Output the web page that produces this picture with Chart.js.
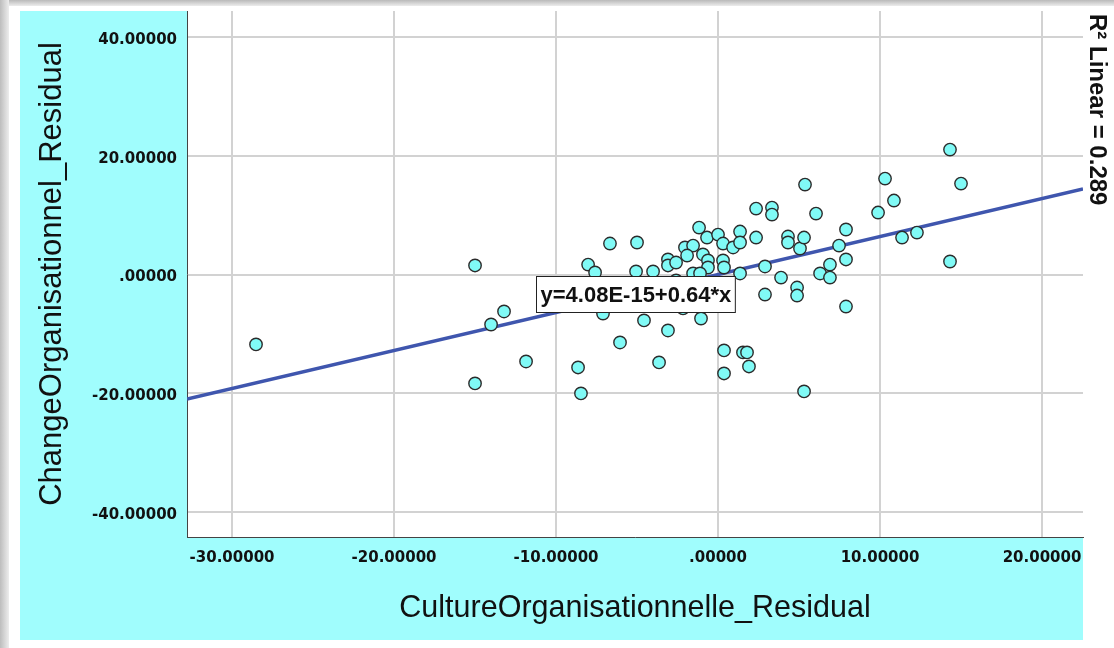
<!DOCTYPE html>
<html>
<head>
<meta charset="utf-8">
<script src="https://cdn.jsdelivr.net/npm/chart.js@4/dist/chart.umd.min.js"></script>
<style>
  html, body { margin: 0; padding: 0; background: #ffffff; }
  #wrap { width: 1114px; height: 648px; position: relative; }
  canvas { display: block; }
</style>
</head>
<body>
<div id="wrap"><canvas id="scatter" width="1114" height="648"></canvas></div>
<script>
// Residuals of the two variables (one entry per respondent)
const cultureResidual = [
  -28.52, -15.00, -15.00, -14.01, -13.21, -11.85, -8.64, -8.46, -8.02, -7.59,
  -7.10, -6.67, -6.05, -5.00, -5.06, -4.57, -4.01, -3.64, -3.09, -3.09,
  -3.09, -2.59, -2.04, -1.54, -1.91, -1.17, -0.93, -0.62, -0.62, -0.68,
  -1.54, -1.11, -2.16, -1.05, 0.00, 0.31, 0.93, 0.31, 0.37, 1.36,
  1.36, 1.36, 2.35, 2.35, 2.90, 2.90, 3.33, 3.33, 3.89, 4.32,
  4.32, 4.88, 4.88, 5.06, 5.31, 5.37, 6.05, 6.30, 6.91, 6.91,
  7.47, 7.90, 7.90, 7.90, 9.88, 10.31, 10.86, 11.36, 12.28, 14.32,
  14.32, 15.00, 0.37, 1.54, 1.79, 1.91, 0.37, 5.31, -2.59
];
const changeResidual = [
  -11.78, 1.52, -18.35, -8.42, -6.23, -14.65, -15.66, -20.03, 1.68, 0.34,
  -6.57, 5.22, -11.45, 5.39, 0.51, -7.74, 0.51, -14.81, -9.43, 2.53,
  1.52, 2.02, 4.55, 4.88, 3.20, 7.91, 3.37, 2.36, 1.18, 6.23,
  0.17, 0.17, -5.72, -7.41, 6.73, 5.22, 4.55, 2.36, 1.18, 7.24,
  5.39, 0.17, 11.11, 6.23, 1.35, -3.37, 11.28, 10.10, -0.51, 6.40,
  5.39, -2.19, -3.54, 4.38, 6.23, 15.15, 10.27, 0.17, 1.68, -0.51,
  4.88, 7.58, 2.53, -5.39, 10.44, 16.16, 12.46, 6.23, 7.07, 21.04,
  2.19, 15.32, -12.79, -13.13, -13.13, -15.49, -16.67, -19.70, -1.00
];

// Axis ticks and their printed labels
const xTickValues = [-30, -20, -10, 0, 10, 20];
const xTickLabels = ['-30.00000', '-20.00000', '-10.00000', '.00000', '10.00000', '20.00000'];
const yTickValues = [-40, -20, 0, 20, 40];
const yTickLabels = ['-40.00000', '-20.00000', '.00000', '20.00000', '40.00000'];

// Axis ranges
const xRange = [-32.78, 22.53];
const yRange = [-44.21, 44.38];

// Linear fit
const fitIntercept = 4.08e-15;
const fitSlope = 0.64;
const fitLabel = 'y=4.08E-15+0.64*x';
const fitLabelAnchor = { x: -11.23, y: -3.2 };   // left edge / vertical centre of the label box
const rSquaredText = 'R\u00B2 Linear = 0.289';

const points = cultureResidual.map((x, i) => ({ x: x, y: changeResidual[i] }));
const fitLine = [xRange[0], xRange[1]].map(x => ({ x: x, y: fitIntercept + fitSlope * x }));

const CYAN = '#a0fdfd';

const framePlugin = {
  id: 'frame',
  beforeDraw(chart) {
    const ctx = chart.ctx;
    const { left, top, right, bottom } = chart.chartArea;
    ctx.save();
    ctx.fillStyle = '#ffffff';
    ctx.fillRect(0, 0, chart.width, chart.height);
    // window-like grey edges
    let g = ctx.createLinearGradient(0, 0, 0, 6);
    g.addColorStop(0, '#b9b9b9'); g.addColorStop(1, '#ececec');
    ctx.fillStyle = g; ctx.fillRect(0, 0, chart.width, 6);
    g = ctx.createLinearGradient(0, 0, 9, 0);
    g.addColorStop(0, '#bdbdbd'); g.addColorStop(1, '#ededed');
    ctx.fillStyle = g; ctx.fillRect(0, 0, 9, chart.height);
    // cyan panel behind axes
    ctx.fillStyle = CYAN;
    ctx.fillRect(20, top, right - 20, 640 - top);
    // white plotting region
    ctx.fillStyle = '#ffffff';
    ctx.fillRect(left, top, right - left, bottom - top);
    ctx.restore();
  }
};

const annotationPlugin = {
  id: 'fitAnnotations',
  afterDatasetsDraw(chart) {
    const ctx = chart.ctx;
    const xs = chart.scales.x, ys = chart.scales.y;
    ctx.save();
    ctx.font = 'bold 22px "Liberation Sans", Arial, sans-serif';
    const w = ctx.measureText(fitLabel).width + 8;
    const h = 36;
    const bx = Math.round(xs.getPixelForValue(fitLabelAnchor.x)) + 0.5;
    const by = Math.round(ys.getPixelForValue(fitLabelAnchor.y) - h / 2) + 0.5;
    ctx.fillStyle = '#ffffff';
    ctx.fillRect(bx, by, w, h);
    ctx.strokeStyle = '#222222';
    ctx.lineWidth = 1;
    ctx.strokeRect(bx, by, w, h);
    ctx.fillStyle = '#111111';
    ctx.textBaseline = 'middle';
    ctx.textAlign = 'left';
    ctx.fillText(fitLabel, bx + 4, by + h / 2 + 1);
    ctx.restore();
  },
  afterDraw(chart) {
    const ctx = chart.ctx;
    ctx.save();
    ctx.translate(1090, 14);
    ctx.rotate(Math.PI / 2);
    ctx.font = 'bold 24px "Liberation Sans", Arial, sans-serif';
    ctx.fillStyle = '#111111';
    ctx.textBaseline = 'alphabetic';
    ctx.textAlign = 'left';
    ctx.fillText(rSquaredText, 0, 0);
    ctx.restore();
  }
};

new Chart(document.getElementById('scatter'), {
  type: 'scatter',
  data: {
    datasets: [
      {
        label: 'Linear fit',
        type: 'line',
        data: fitLine,
        borderColor: '#3f56ae',
        borderWidth: 3.5,
        pointRadius: 0,
        fill: false,
        order: 2
      },
      {
        label: 'Residuals',
        data: points,
        pointRadius: 6.2,
        pointBackgroundColor: '#80faf6',
        pointBorderColor: '#2b2b2b',
        pointBorderWidth: 1.4,
        order: 1
      }
    ]
  },
  options: {
    responsive: false,
    animation: false,
    devicePixelRatio: 1,
    layout: { padding: { left: 20, top: 11, right: 31, bottom: 8 } },
    plugins: {
      legend: { display: false },
      tooltip: { enabled: false }
    },
    scales: {
      x: {
        type: 'linear',
        min: xRange[0],
        max: xRange[1],
        afterBuildTicks: s => { s.ticks = xTickValues.map(v => ({ value: v })); },
        afterFit: s => { s.height = 103; s.paddingLeft = 0; s.paddingRight = 0; },
        grid: { color: '#d2d2d2', lineWidth: 2, drawTicks: false },
        border: { color: '#444444', width: 1 },
        ticks: {
          padding: 12,
          color: '#111111',
          maxRotation: 0,
          font: { family: '"DejaVu Sans", Verdana, sans-serif', size: 15, weight: 'bold' },
          callback: (v, i) => xTickLabels[i]
        },
        title: {
          display: true,
          text: 'CultureOrganisationnelle_Residual',
          color: '#111111',
          font: { family: '"Liberation Sans", Arial, sans-serif', size: 30.5 },
          padding: { top: 0, bottom: 13 }
        }
      },
      y: {
        type: 'linear',
        min: yRange[0],
        max: yRange[1],
        afterBuildTicks: s => { s.ticks = yTickValues.map(v => ({ value: v })); },
        afterFit: s => { s.width = 167; s.paddingTop = 0; s.paddingBottom = 0; },
        grid: { color: '#d2d2d2', lineWidth: 2, drawTicks: false },
        border: { color: '#444444', width: 1 },
        ticks: {
          padding: 10,
          labelOffset: 3,
          color: '#111111',
          font: { family: '"DejaVu Sans", Verdana, sans-serif', size: 15, weight: 'bold' },
          callback: (v, i) => yTickLabels[i]
        },
        title: {
          display: true,
          text: 'ChangeOrganisationnel_Residual',
          color: '#111111',
          font: { family: '"Liberation Sans", Arial, sans-serif', size: 31 },
          padding: { top: 14, bottom: 0 }
        }
      }
    }
  },
  plugins: [framePlugin, annotationPlugin]
});
</script>
</body>
</html>
